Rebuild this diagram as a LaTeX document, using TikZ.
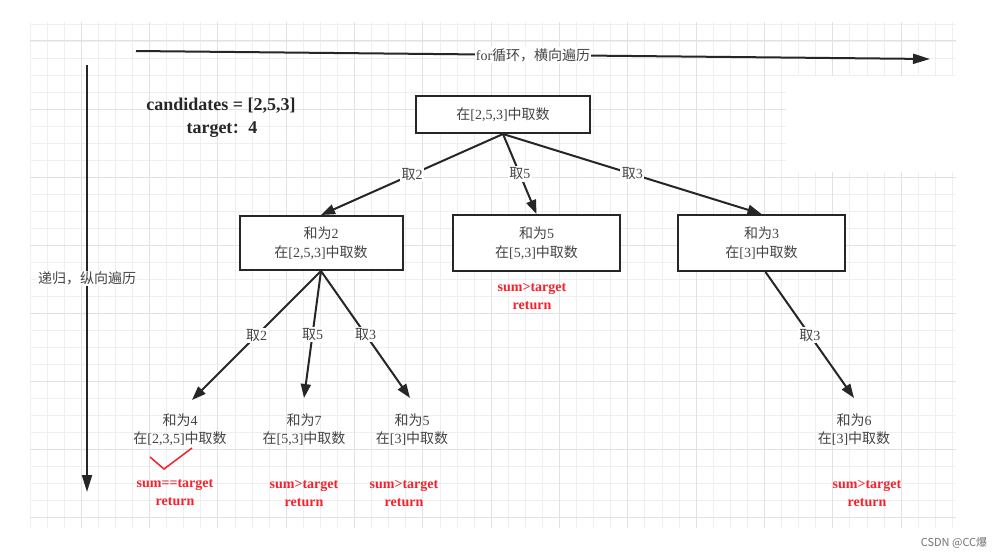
\documentclass[tikz,border=0pt]{standalone}
\usepackage{fontspec}
\setmainfont{Liberation Serif}
\newfontfamily\cjk{Noto Sans CJK SC}
\usetikzlibrary{arrows.meta}
\newcommand{\zh}[1]{{\cjk #1}}
\definecolor{txt}{HTML}{444444}
\definecolor{gminor}{HTML}{EFEFEF}
\definecolor{gmajor}{HTML}{E2E2E2}
\definecolor{redt}{HTML}{F5222D}
\definecolor{ink}{HTML}{262626}
\tikzset{
  box/.style={draw=ink, fill=white, line width=2pt, text=txt, align=center,
    font=\fontsize{14}{19}\selectfont, inner sep=0pt},
  leaf/.style={text=txt, align=center, font=\fontsize{14}{18}\selectfont},
  redtxt/.style={text=redt, align=center, font=\bfseries\fontsize{14}{18}\selectfont},
  edge/.style={line width=2pt, draw=ink, -{Triangle[length=14pt,width=10pt]}},
  lbl/.style={fill=white, inner sep=1.5pt, text=txt, font=\fontsize{14}{16}\selectfont},
  axis/.style={line width=2pt, draw=ink, -{Triangle[length=17pt,width=10pt]}},
}
\begin{document}
\begin{tikzpicture}[x=1pt,y=-1pt]
\useasboundingbox (0,0) rectangle (1001,558);
\fill[white] (0,0) rectangle (1001,558);
% grid
\foreach \k in {0,...,54} {
  \draw[gminor, line width=0.8pt] ({30+17.08*\k},22) -- ({30+17.08*\k},528);
}
\foreach \k in {0,...,29} {
  \draw[gminor, line width=0.8pt] (30,{23.9+17.03*\k}) -- (956,{23.9+17.03*\k});
}
\foreach \k in {3,7,...,51} {
  \draw[gmajor, line width=1pt] ({30+17.08*\k},22) -- ({30+17.08*\k},528);
}
\foreach \k in {1,5,...,29} {
  \draw[gmajor, line width=1pt] (30,{23.9+17.03*\k}) -- (956,{23.9+17.03*\k});
}
\fill[white] (786,76) rectangle (957,172);

% axes
\coordinate (hs) at (136,51);
\coordinate (he) at (930,59);
\coordinate (vs) at (87,65);
\coordinate (ve) at (87,492);
\draw[axis] (hs) -- node[lbl, midway, inner sep=1pt] {for\zh{循环，横向遍历}} (he);
\draw[axis] (vs) -- node[lbl, midway, inner sep=1pt] {\zh{递归，纵向遍历}} (ve);

% problem statement
\node[text=ink, font=\bfseries\fontsize{18}{22}\selectfont] (cand) at (221,106) {candidates = [2,5,3]};
\node[text=ink, font=\bfseries\fontsize{18}{22}\selectfont] (targ) at (222,130) {target\zh{\fontsize{14}{16}\selectfont ：}\hspace{2pt}4};

% boxes
\node[box, minimum width=174pt, minimum height=37pt] (root) at (503,114.5) {\zh{在}[2,5,3]\zh{中取数}};
\node[box, minimum width=163pt, minimum height=54pt] (b2) at (321,243) {\zh{和为}2\\\zh{在}[2,5,3]\zh{中取数}};
\node[box, minimum width=167pt, minimum height=56pt] (b5) at (536.5,243) {\zh{和为}5\\\zh{在}[5,3]\zh{中取数}};
\node[box, minimum width=167pt, minimum height=56pt] (b3) at (761.5,243) {\zh{和为}3\\\zh{在}[3]\zh{中取数}};

\node[redtxt] (r5) at (532,296) {sum>target\\return};

% leaves
\node[leaf] (l4) at (180,430) {\zh{和为}4\\\zh{在}[2,3,5]\zh{中取数}};
\node[leaf] (l7) at (304,430) {\zh{和为}7\\\zh{在}[5,3]\zh{中取数}};
\node[leaf] (l5) at (412,430) {\zh{和为}5\\\zh{在}[3]\zh{中取数}};
\node[leaf] (l6) at (854,430) {\zh{和为}6\\\zh{在}[3]\zh{中取数}};

\node[redtxt] (r4) at (175,493) {sum==target\\return};
\node[redtxt] (r7) at (304,493) {sum>target\\return};
\node[redtxt] (r5b) at (404,493) {sum>target\\return};
\node[redtxt] (r6) at (867,493) {sum>target\\return};

% tips of lower arrows
\coordinate (t4) at (192,400);
\coordinate (t7) at (304,398);
\coordinate (t5) at (410,398);
\coordinate (t6) at (854,398);

% edges
\draw[edge] (root.south) -- node[lbl, midway] {\zh{取}2} (b2.north);
\draw[edge] (root.south) -- node[lbl, midway] {\zh{取}5} (b5.north);
\draw[edge] (root.south) -- node[lbl, midway] {\zh{取}3} (b3.north);
\draw[edge] (b2.south) -- node[lbl, midway] {\zh{取}2} (t4);
\draw[edge] (b2.south) -- node[lbl, midway] {\zh{取}5} (t7);
\draw[edge] (b2.south) -- node[lbl, midway] {\zh{取}3} (t5);
\draw[edge] ([xshift=4pt]b3.south) -- node[lbl, midway] {\zh{取}3} (t6);

% check mark
\draw[redt, line width=1.5pt] (150,457) -- (164,469) -- (192,448);

% watermark
\node[text=black!55, font=\cjk\fontsize{11}{13}\selectfont] (wm) at (954,543) {CSDN @CC爆};
\end{tikzpicture}
\end{document}
